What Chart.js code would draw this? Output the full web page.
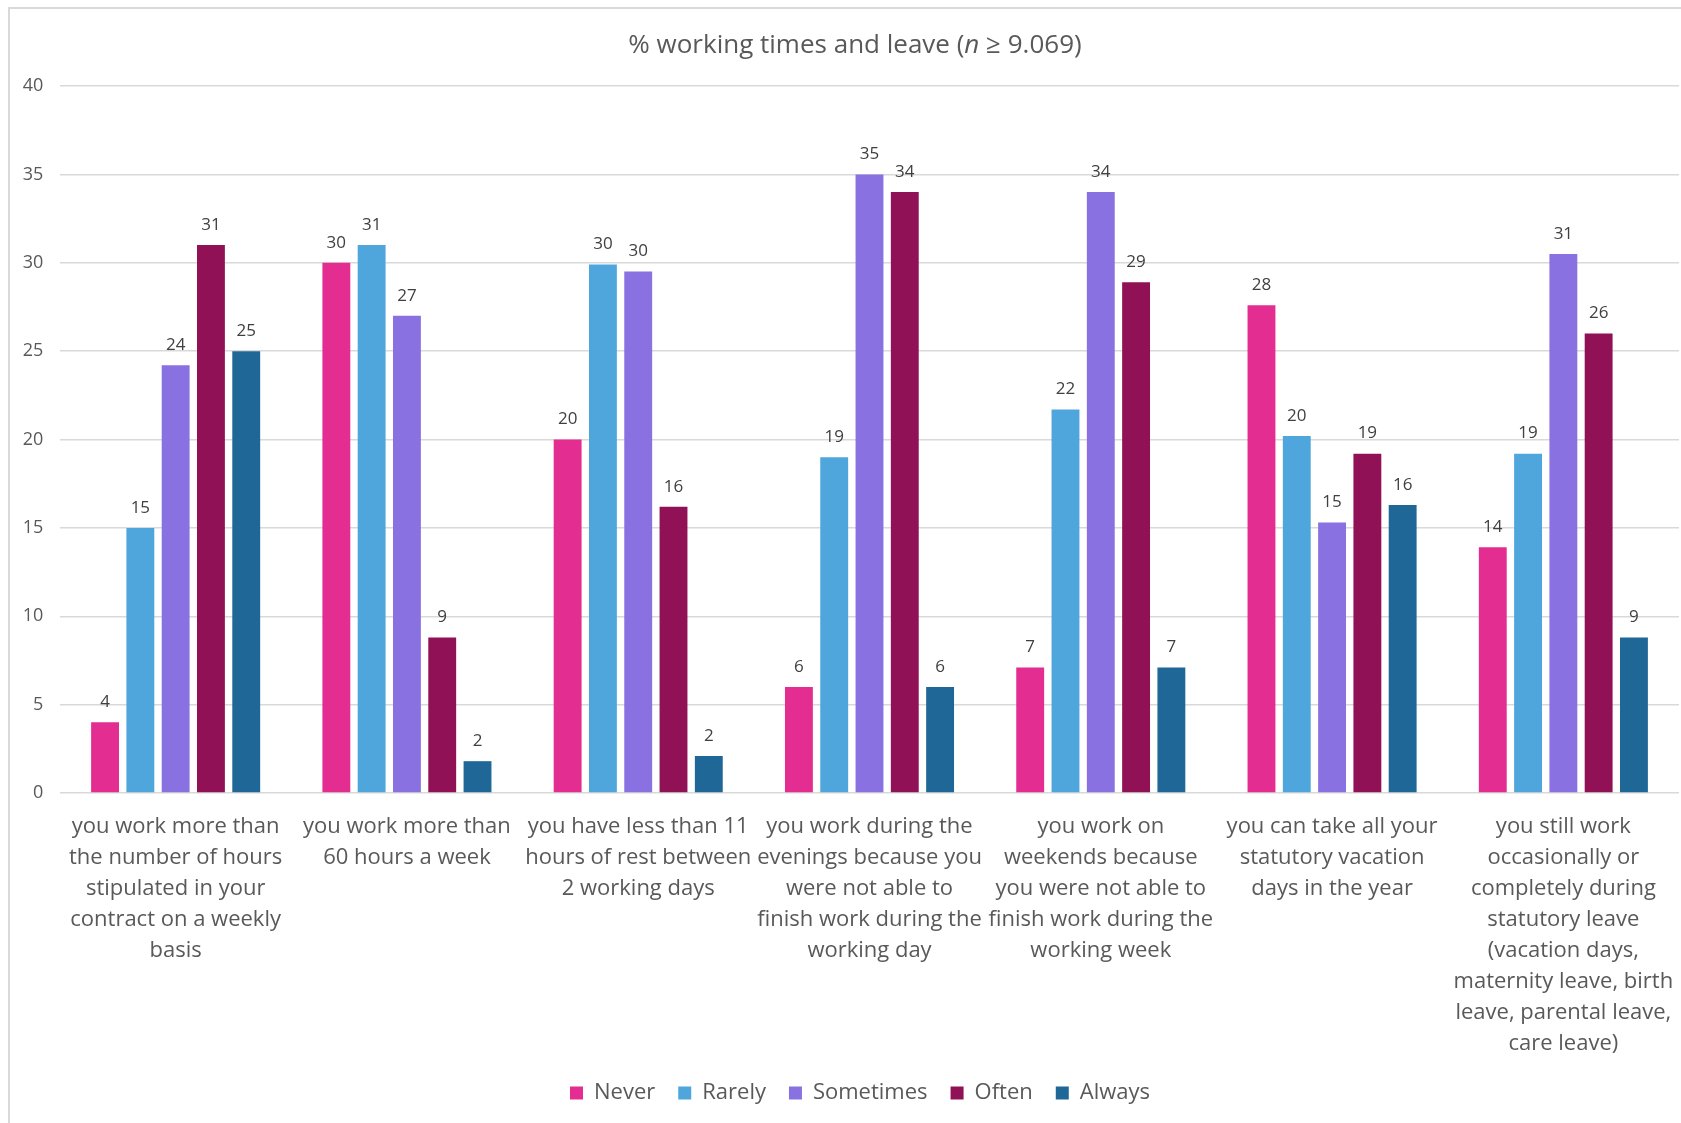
<!DOCTYPE html>
<html>
<head>
<meta charset="utf-8">
<title>% working times and leave</title>
<script src="https://cdn.jsdelivr.net/npm/chart.js@4.4.1/dist/chart.umd.min.js"></script>
<style>
  html, body { margin: 0; padding: 0; background: #fff; overflow: hidden; }
  #page { position: relative; width: 1681px; height: 1123px; overflow: hidden; }
  #frame {
    position: absolute; left: 8px; top: 7px; width: 2000px; height: 2000px;
    border-left: 2px solid #d9d9d9; border-top: 2px solid #d9d9d9;
  }
  #chart { position: absolute; left: 0; top: 0; }
</style>
</head>
<body>
<div id="page">
  <div id="frame"></div>
  <canvas id="chart" width="1701" height="1114"></canvas>
</div>
<script>
const categories = [
  ["you work more than", "the number of hours", "stipulated in your", "contract on a weekly", "basis"],
  ["you work more than", "60 hours a week"],
  ["you have less than 11", "hours of rest between", "2 working days"],
  ["you work during the", "evenings because you", "were not able to", "finish work during the", "working day"],
  ["you work on", "weekends because", "you were not able to", "finish work during the", "working week"],
  ["you can take all your", "statutory vacation", "days in the year"],
  ["you still work", "occasionally or", "completely during", "statutory leave", "(vacation days,", "maternity leave, birth", "leave, parental leave,", "care leave)"]
];

const never     = [4.0, 30.0, 20.0, 6.0, 7.1, 27.6, 13.9];
const rarely    = [15.0, 31.0, 29.9, 19.0, 21.7, 20.2, 19.2];
const sometimes = [24.2, 27.0, 29.5, 35.0, 34.0, 15.3, 30.5];
const often     = [31.0, 8.8, 16.2, 34.0, 28.9, 19.2, 26.0];
const always    = [25.0, 1.8, 2.1, 6.0, 7.1, 16.3, 8.8];

const yTicks = [0, 5, 10, 15, 20, 25, 30, 35, 40];

const FONT = '"Open Sans", "Noto Sans", sans-serif';
const TEXT_GREY = "#595959";

function series(label, data, color) {
  return {
    label: label,
    data: data,
    backgroundColor: color,
    borderWidth: 0,
    categoryPercentage: 0.763,
    barPercentage: 0.79,
  };
}

// rounded value above every bar
const barValueLabels = {
  id: "barValueLabels",
  afterDatasetsDraw(chart) {
    const ctx = chart.ctx;
    ctx.save();
    ctx.font = "17px " + FONT;
    ctx.fillStyle = "#404040";
    ctx.textAlign = "center";
    ctx.textBaseline = "middle";
    chart.data.datasets.forEach((ds, i) => {
      chart.getDatasetMeta(i).data.forEach((bar, j) => {
        ctx.fillText(String(Math.round(ds.data[j])), bar.x, bar.y - 20);
      });
    });
    ctx.restore();
  },
};

// title with an italic "n"
const chartTitle = {
  id: "chartTitle",
  afterDraw(chart) {
    const ctx = chart.ctx;
    const parts = [
      { text: "% working times and leave (", font: "26px " + FONT },
      { text: "n", font: "italic 26px " + FONT },
      { text: " \u2265 9.069)", font: "26px " + FONT },
    ];
    ctx.save();
    ctx.fillStyle = TEXT_GREY;
    ctx.textBaseline = "alphabetic";
    ctx.textAlign = "left";
    let total = 0;
    parts.forEach((p) => {
      ctx.font = p.font;
      p.w = ctx.measureText(p.text).width;
      total += p.w;
    });
    let x = 855 - total / 2;
    parts.forEach((p) => {
      ctx.font = p.font;
      ctx.fillText(p.text, x, 53);
      x += p.w;
    });
    ctx.restore();
  },
};

// nudge the legend a little to the right of the plot centre
const legendShift = {
  id: "legendShift",
  afterLayout(chart) {
    chart.legend.left += 9;
    chart.legend.right += 9;
  },
};

new Chart(document.getElementById("chart"), {
  type: "bar",
  data: {
    labels: categories,
    datasets: [
      series("Never", never, "#E32D91"),
      series("Rarely", rarely, "#4EA6DC"),
      series("Sometimes", sometimes, "#8971E1"),
      series("Often", often, "#901155"),
      series("Always", always, "#1F6796"),
    ],
  },
  options: {
    responsive: false,
    animation: false,
    devicePixelRatio: 1,
    layout: {
      padding: { left: 23, right: 22, top: 86, bottom: 0 },
    },
    scales: {
      x: {
        grid: { display: false },
        border: { display: false },
        ticks: {
          color: TEXT_GREY,
          font: { family: FONT, size: 22, lineHeight: 31 / 22 },
          padding: 10,
          maxRotation: 0,
          autoSkip: false,
        },
        afterFit: (scale) => {
          scale.height = 266;
        },
      },
      y: {
        min: 0,
        max: 40,
        afterBuildTicks: (scale) => {
          scale.ticks = yTicks.map((v) => ({ value: v }));
        },
        grid: { color: "#d9d9d9", lineWidth: 1.5, drawTicks: false },
        border: { display: false },
        ticks: {
          color: TEXT_GREY,
          font: { family: FONT, size: 18 },
          padding: 16.7,
        },
        afterFit: (scale) => {
          scale.width = 37;
        },
      },
    },
    plugins: {
      title: { display: false },
      tooltip: { enabled: false },
      legend: {
        position: "bottom",
        labels: {
          color: TEXT_GREY,
          font: { family: FONT, size: 22 },
          boxWidth: 13,
          boxHeight: 13,
          padding: 23,
        },
      },
    },
  },
  plugins: [barValueLabels, chartTitle, legendShift],
});
</script>
</body>
</html>
